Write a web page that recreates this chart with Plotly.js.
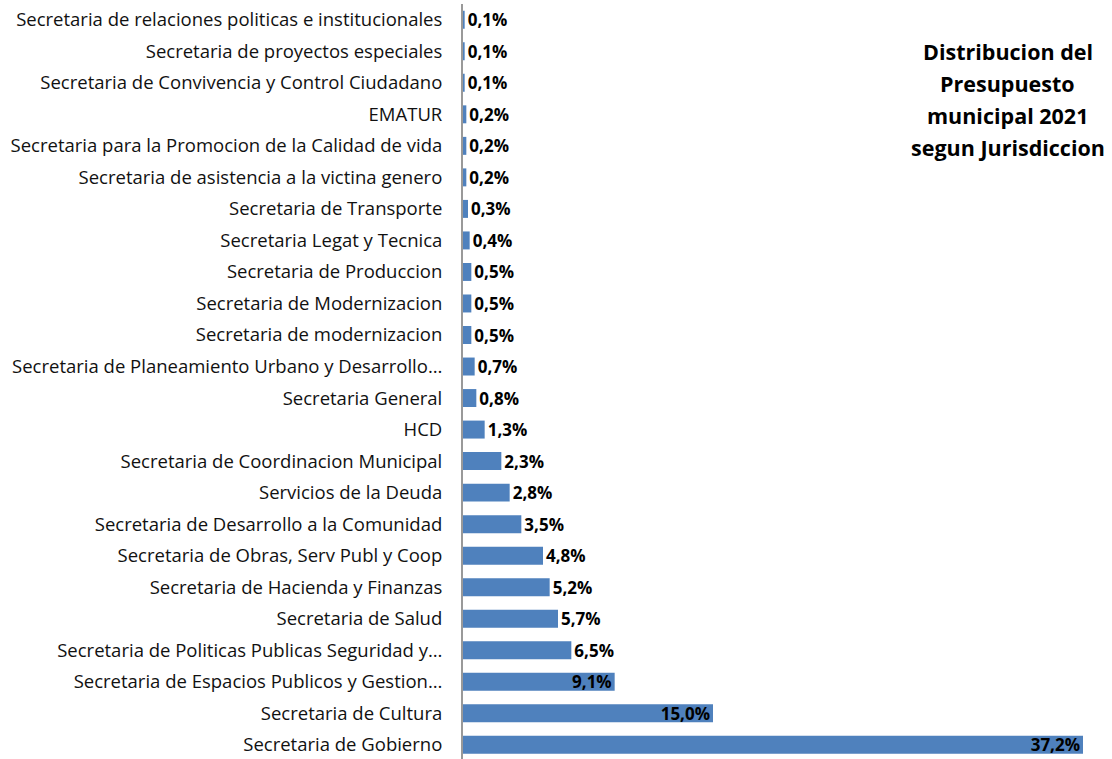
<!DOCTYPE html>
<html>
<head>
<meta charset="utf-8">
<script src="https://cdn.plot.ly/plotly-3.0.1.min.js"></script>
<style>html,body{margin:0;padding:0;background:#fff;}#chart{width:1112px;height:759px;}</style>
</head>
<body>
<div id="chart"></div>
<script>
// Categories listed bottom to top
const categories = [
  "Secretaria de Gobierno",
  "Secretaria de Cultura",
  "Secretaria de Espacios Publicos y Gestion…",
  "Secretaria de Politicas Publicas Seguridad y…",
  "Secretaria de Salud",
  "Secretaria de Hacienda y Finanzas",
  "Secretaria de Obras, Serv Publ y Coop",
  "Secretaria de Desarrollo a la Comunidad",
  "Servicios de la Deuda",
  "Secretaria de Coordinacion Municipal",
  "HCD",
  "Secretaria General",
  "Secretaria de Planeamiento Urbano y Desarrollo…",
  "Secretaria de modernizacion",
  "Secretaria de Modernizacion",
  "Secretaria de Produccion",
  "Secretaria Legat y Tecnica",
  "Secretaria de Transporte",
  "Secretaria de asistencia a la victina genero",
  "Secretaria para la Promocion de la Calidad de vida",
  "EMATUR",
  "Secretaria de Convivencia y Control Ciudadano",
  "Secretaria de proyectos especiales",
  "Secretaria de relaciones politicas e institucionales"
];
const shares = [37.2, 15.0, 9.1, 6.5, 5.7, 5.2, 4.8, 3.5, 2.8, 2.3, 1.3, 0.8, 0.7, 0.5, 0.5, 0.5, 0.4, 0.3, 0.2, 0.2, 0.2, 0.1, 0.1, 0.1];
const titleLines = ["Distribucion del", "Presupuesto", "municipal 2021", "segun Jurisdiccion"];

const FONT = '"Open Sans", "Noto Sans", sans-serif';
const labels = shares.map(v => v.toFixed(1).replace('.', ',') + '%');
const positions = shares.map(v => v >= 9 ? 'inside' : 'outside');

const trace = {
  type: 'bar',
  orientation: 'h',
  x: shares,
  y: categories,
  marker: {color: '#4F81BD'},
  text: labels,
  textposition: positions,
  insidetextanchor: 'end',
  textangle: 0,
  cliponaxis: false,
  constraintext: 'none',
  textfont: {family: FONT, size: 17, color: '#000', weight: 'bold'},
  hoverinfo: 'skip'
};

const annotations = titleLines.map((t, i) => ({
  text: '<b>' + t + '</b>',
  xref: 'paper', yref: 'paper',
  x: 0.879, y: 1, yanchor: 'middle', xanchor: 'center',
  yshift: -47 - i * 32,
  showarrow: false,
  font: {family: FONT, size: 21.5, color: '#000'}
}));

const layout = {
  width: 1112, height: 759,
  margin: {l: 463, r: 29, t: 4, b: 0},
  paper_bgcolor: '#fff', plot_bgcolor: '#fff',
  showlegend: false,
  bargap: 0.43,
  xaxis: {range: [0, 37.2], visible: false, fixedrange: true},
  yaxis: {
    type: 'category',
    range: [-0.45, 23.5],
    showgrid: false,
    showline: true, linecolor: '#999', linewidth: 2,
    ticks: '', ticklabelstandoff: 15,
    tickfont: {family: FONT, size: 18.5, color: '#111'},
    automargin: false
  },
  annotations: annotations
};

Plotly.newPlot('chart', [trace], layout, {staticPlot: true, displayModeBar: false});
</script>
</body>
</html>
